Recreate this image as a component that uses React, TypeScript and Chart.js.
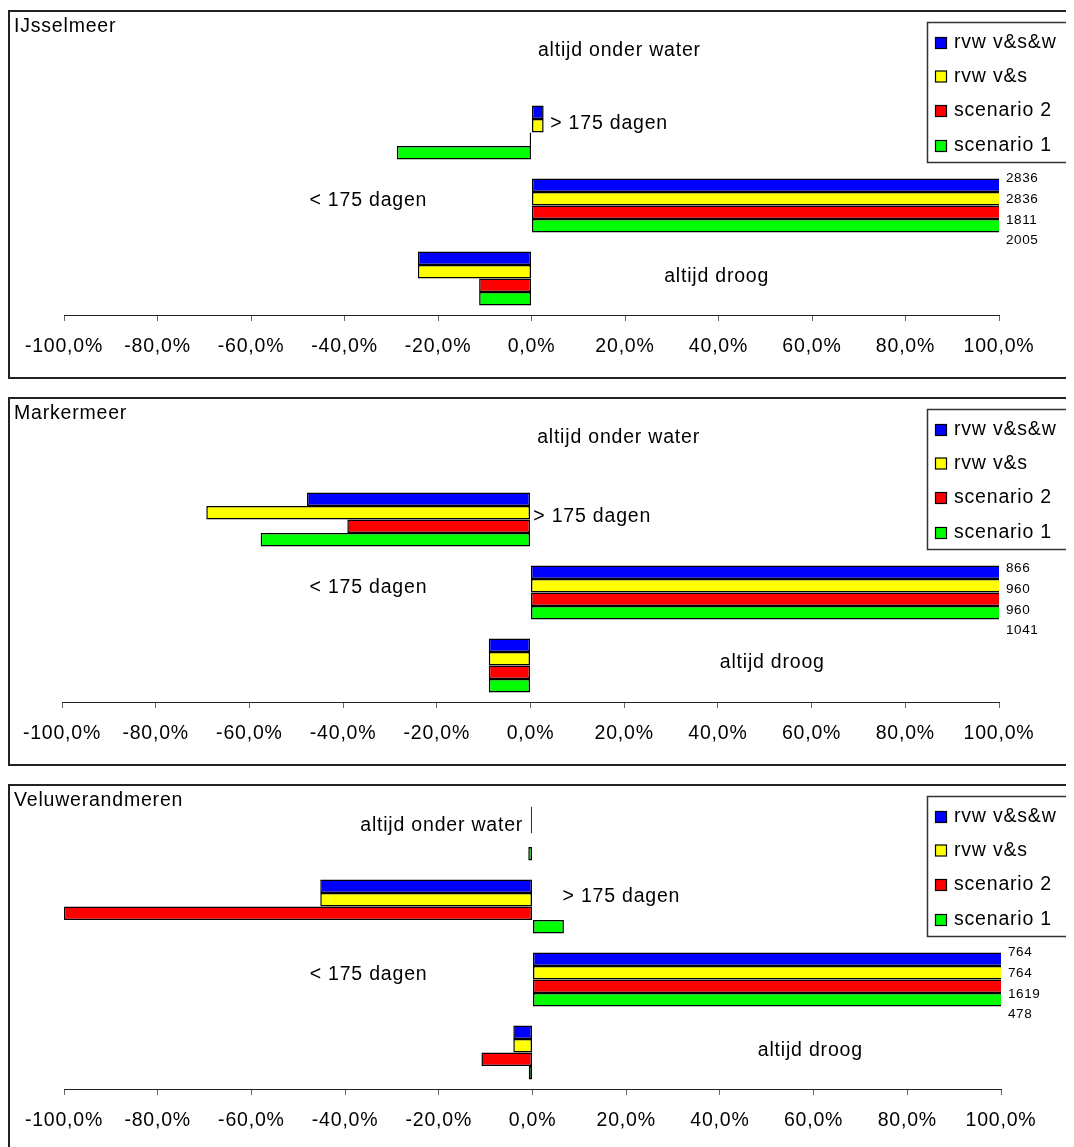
import React, { useEffect, useRef } from 'react';
import { Chart, registerables } from 'chart.js';

Chart.register(...registerables);

// ---------- data ----------
const categories = ['altijd onder water', '> 175 dagen', '< 175 dagen', 'altijd droog'];
const seriesNames = ['rvw v&s&w', 'rvw v&s', 'scenario 2', 'scenario 1'];
const seriesColors = ['#0000FF', '#FFFF00', '#FF0000', '#00FF00'];
const xTickValues = [-100, -80, -60, -40, -20, 0, 20, 40, 60, 80, 100];

const ijsselmeerRvwVSW = [0, 2.6, 2836, -24.3];
const ijsselmeerRvwVS = [0, 2.6, 2836, -24.3];
const ijsselmeerScenario2 = [0, -0.4, 1811, -11.2];
const ijsselmeerScenario1 = [0, -28.8, 2005, -11.2];

const markermeerRvwVSW = [0, -47.7, 866, -8.9];
const markermeerRvwVS = [0, -69.2, 960, -8.9];
const markermeerScenario2 = [0, -39.1, 960, -8.9];
const markermeerScenario1 = [0, -57.6, 1041, -8.9];

const veluweRvwVSW = [-0.3, -45.3, 764, -4.1];
const veluweRvwVS = [-0.3, -45.3, 764, -4.1];
const veluweScenario2 = [0, -100, 1619, -10.9];
const veluweScenario1 = [-0.9, 6.7, 478, -0.8];

// ---------- layout / style ----------
const FONT = '"Liberation Sans", Arial, sans-serif';
const FONT_SIZE = 19.5;
const LETTER_SPACING = '0.8px';
const CANVAS_W = 1064;
const CANVAS_H = 365;

type CatLabel = { x: number; dy: number; align: CanvasTextAlign };
type PanelCfg = {
  title: string;
  series: number[][];
  padLeft: number;
  padRight: number;
  valueLabelDy: number;
  catLabels: CatLabel[];
};

const panels: PanelCfg[] = [
  {
    title: 'IJsselmeer',
    series: [ijsselmeerRvwVSW, ijsselmeerRvwVS, ijsselmeerScenario2, ijsselmeerScenario1],
    padLeft: 54,
    padRight: 75,
    valueLabelDy: -27,
    catLabels: [
      { x: 18.8, dy: -9, align: 'center' },
      { x: 4, dy: -9, align: 'left' },
      { x: -34.9, dy: -5, align: 'center' },
      { x: 39.6, dy: -2, align: 'center' },
    ],
  },
  {
    title: 'Markermeer',
    series: [markermeerRvwVSW, markermeerRvwVS, markermeerScenario2, markermeerScenario1],
    padLeft: 52,
    padRight: 75,
    valueLabelDy: -24,
    catLabels: [
      { x: 18.8, dy: -9, align: 'center' },
      { x: 0.6, dy: -3, align: 'left' },
      { x: -34.6, dy: -5, align: 'center' },
      { x: 51.6, dy: -3, align: 'center' },
    ],
  },
  {
    title: 'Veluwerandmeren',
    series: [veluweRvwVSW, veluweRvwVS, veluweScenario2, veluweScenario1],
    padLeft: 54,
    padRight: 73,
    valueLabelDy: -27,
    catLabels: [
      { x: -2, dy: -8, align: 'right' },
      { x: 6.4, dy: -10, align: 'left' },
      { x: -35, dy: -5, align: 'center' },
      { x: 59.3, dy: -2, align: 'center' },
    ],
  },
];

const fmtTick = (v: number | string) => Number(v).toFixed(1).replace('.', ',') + '%';

function makeOverlay(cfg: PanelCfg) {
  return {
    id: 'overlay',
    beforeUpdate(chart: any) {
      chart.ctx.letterSpacing = LETTER_SPACING;
    },
    beforeDraw(chart: any) {
      chart.ctx.letterSpacing = LETTER_SPACING;
    },
    afterDraw(chart: any) {
      const ctx: CanvasRenderingContext2D = chart.ctx;
      const xs = chart.scales.x;
      const ys = chart.scales.y;
      const area = chart.chartArea;
      ctx.save();
      ctx.fillStyle = '#000';
      (ctx as any).letterSpacing = LETTER_SPACING;
      ctx.font = `${FONT_SIZE}px ${FONT}`;

      // title
      ctx.textAlign = 'left';
      ctx.textBaseline = 'alphabetic';
      ctx.fillText(cfg.title, 4, 20);

      // category labels
      ctx.textBaseline = 'middle';
      cfg.catLabels.forEach((l, i) => {
        ctx.textAlign = l.align;
        ctx.fillText(categories[i], xs.getPixelForValue(l.x), ys.getPixelForValue(i) + l.dy);
      });

      // value labels for clipped bars
      ctx.font = `13.5px ${FONT}`;
      (ctx as any).letterSpacing = '0.6px';
      ctx.textAlign = 'left';
      chart.data.datasets.forEach((ds: any, di: number) => {
        ds.data.forEach((v: number, ci: number) => {
          if (v > xs.max) {
            ctx.fillText(String(v), area.right + 7, ys.getPixelForValue(ci) + cfg.valueLabelDy + di * 20.7);
          }
        });
      });

      // legend
      const bx = 917.5;
      const by = 10.5;
      const bw = 145;
      const bh = 140;
      ctx.fillStyle = '#fff';
      ctx.fillRect(bx, by, bw, bh);
      ctx.strokeStyle = '#333';
      ctx.lineWidth = 1.5;
      ctx.strokeRect(bx, by, bw, bh);
      ctx.font = `${FONT_SIZE}px ${FONT}`;
      (ctx as any).letterSpacing = LETTER_SPACING;
      ctx.textBaseline = 'middle';
      ctx.textAlign = 'left';
      const rowY = [31, 64.5, 99, 134];
      seriesNames.forEach((name, i) => {
        const cy = rowY[i];
        ctx.fillStyle = seriesColors[i];
        ctx.fillRect(925.5, cy - 5.5, 11, 11);
        ctx.strokeStyle = '#000';
        ctx.lineWidth = 1.2;
        ctx.strokeRect(925.5, cy - 5.5, 11, 11);
        ctx.fillStyle = '#000';
        ctx.fillText(name, 944, cy);
      });
      ctx.restore();
    },
  };
}

function Panel({ cfg, top }: { cfg: PanelCfg; top: number }) {
  const ref = useRef<HTMLCanvasElement>(null);
  useEffect(() => {
    const canvas = ref.current;
    if (!canvas) return;
    const chart = new Chart(canvas, {
      type: 'bar',
      data: {
        labels: categories,
        datasets: cfg.series.map((vals, i) => ({
          label: seriesNames[i],
          data: vals,
          backgroundColor: seriesColors[i],
          borderColor: '#000',
          borderWidth: 1.5,
          borderSkipped: false,
          barPercentage: 1,
          categoryPercentage: 0.74,
          clip: 0,
        })),
      },
      options: {
        indexAxis: 'y',
        animation: false,
        responsive: false,
        devicePixelRatio: 1,
        events: [],
        layout: { padding: { left: cfg.padLeft, right: cfg.padRight, top: 11, bottom: 0 } },
        plugins: {
          legend: { display: false },
          tooltip: { enabled: false },
          title: { display: false },
        },
        scales: {
          y: { type: 'category', display: false, offset: true },
          x: {
            type: 'linear',
            position: 'bottom',
            min: -100,
            max: 100,
            afterBuildTicks: (s: any) => {
              s.ticks = xTickValues.map((v) => ({ value: v }));
            },
            afterFit: (s: any) => {
              s.height = 62;
              s.paddingLeft = 0;
              s.paddingRight = 0;
            },
            ticks: {
              callback: (v: any) => fmtTick(v),
              color: '#000',
              font: { family: FONT, size: FONT_SIZE },
              padding: 14,
              maxRotation: 0,
              minRotation: 0,
              autoSkip: false,
            },
            grid: {
              drawOnChartArea: false,
              drawTicks: true,
              tickLength: 6,
              color: '#666',
              lineWidth: 1,
            },
            border: { display: true, color: '#222', width: 1 },
          },
        },
      } as any,
      plugins: [makeOverlay(cfg)],
    });
    return () => chart.destroy();
  }, [cfg]);
  return (
    <div
      style={{
        position: 'absolute',
        left: 0,
        top,
        width: 1090,
        height: CANVAS_H,
        border: '2px solid #222',
      }}
    >
      <canvas
        ref={ref}
        width={CANVAS_W}
        height={CANVAS_H}
        style={{ position: 'absolute', left: 0, top: 0, width: CANVAS_W, height: CANVAS_H }}
      />
    </div>
  );
}

export default function App() {
  useEffect(() => {
    document.documentElement.style.overflow = 'hidden';
    document.body.style.overflow = 'hidden';
  }, []);
  const tops = [2, 389, 776];
  return (
    <div style={{ position: 'relative', width: 1066, height: 1139, overflow: 'hidden', background: '#fff' }}>
      {panels.map((p, i) => (
        <Panel key={p.title} cfg={p} top={tops[i]} />
      ))}
    </div>
  );
}
